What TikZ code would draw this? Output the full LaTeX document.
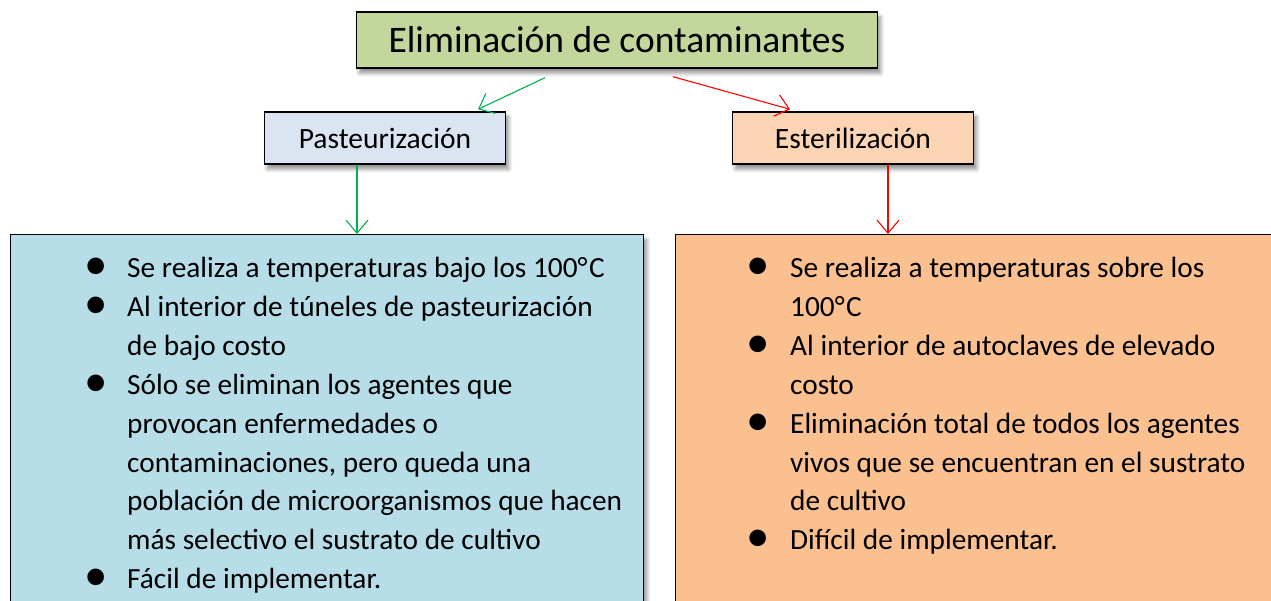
\documentclass[tikz,border=0pt]{standalone}
\usepackage{fontspec}
\setmainfont{Carlito}
\usetikzlibrary{positioning,shadows.blur,arrows.meta}

\definecolor{verdetit}{HTML}{C3D69B}
\definecolor{azulpas}{HTML}{DBE5F1}
\definecolor{naranest}{HTML}{FBD4B4}
\definecolor{celeste}{HTML}{B7DDE8}
\definecolor{naranja}{HTML}{FAC090}
\definecolor{flechaverde}{HTML}{00B050}

\newlength{\sangria}
\newcommand{\blt}{\raisebox{-2pt}{\scalebox{1.6}{\textbullet}}}
\newcommand{\grados}{°\kern1.5pt C}
\newcommand{\punto}[1]{\par\noindent\hangindent=\sangria\hangafter=1\makebox[\sangria][l]{\blt}#1}
\newcommand{\letralista}[1]{\fontsize{29.3}{38.9}\selectfont
  \spaceskip=6.7pt\xspaceskip=6.7pt\setlength{\sangria}{#1}}

\tikzset{
  caja/.style={draw=black, line width=1.4pt, inner sep=0pt,
    blur shadow={shadow xshift=3pt, shadow yshift=-5pt, shadow blur steps=6,
      shadow blur radius=4pt, shadow opacity=45}},
  lista/.style={anchor=north west, inner sep=0pt, text width=#1, align=left},
  flecha/.style={line width=1.1pt, -{Straight Barb[length=13pt,width=22pt]}},
}

\begin{document}
\begin{tikzpicture}[x=1pt,y=-1pt]
  \useasboundingbox (0,0) rectangle (1271,601);
  \clip (0,0) rectangle (1271,601);

  \node[caja, fill=verdetit, minimum width=521pt, minimum height=56pt,
    font=\fontsize{37.5}{44}\selectfont] (titulo) at (617,40) {Eliminación de contaminantes};
  \node[caja, fill=azulpas, minimum width=241pt, minimum height=52pt,
    font=\fontsize{29.5}{32}\selectfont] (pas) at (385,138) {Pasteurización};
  \node[caja, fill=naranest, minimum width=241pt, minimum height=52pt,
    font=\fontsize{29.5}{32}\selectfont] (est) at (853,138) {Esterilización};

  \node[caja, fill=celeste, minimum width=633pt, minimum height=420pt,
    anchor=north west] (pasbox) at (10,234) {};
  \node[caja, fill=naranja, minimum width=640pt, minimum height=420pt,
    anchor=north west] (estbox) at (675,234) {};

  % listas
  \node[lista=560pt] (paslista) at (84,238.5) {\letralista{43pt}
    \punto{Se realiza a temperaturas bajo los 100\grados}
    \punto{Al interior de túneles de pasteurización\newline de bajo costo}
    \punto{Sólo se eliminan los agentes que\newline provocan enfermedades o\newline contaminaciones, pero queda una\newline población de microorganismos que hacen\newline más selectivo el sustrato de cultivo}
    \punto{Fácil de implementar.}\par};
  \node[lista=520pt] (estlista) at (746,238.5) {\letralista{44pt}
    \punto{Se realiza a temperaturas sobre los\newline 100\grados}
    \punto{Al interior de autoclaves de elevado\newline costo}
    \punto{Eliminación total de todos los agentes\newline vivos que se encuentran en el sustrato\newline de cultivo}
    \punto{Difícil de implementar.}\par};

  % flechas
  \draw[flecha, flechaverde] ([xshift=-72pt,yshift=-9pt]titulo.south)
    -- ([xshift=93pt,yshift=2pt]pas.north);
  \draw[flecha, red] ([xshift=56pt,yshift=-8pt]titulo.south)
    -- ([xshift=-63pt,yshift=2pt]est.north);
  \draw[flecha, flechaverde] ([xshift=-28pt]pas.south)
    -- ([xshift=-28pt]pas.south |- pasbox.north);
  \draw[flecha, red] ([xshift=35pt]est.south)
    -- ([xshift=35pt]est.south |- estbox.north);
\end{tikzpicture}
\end{document}
